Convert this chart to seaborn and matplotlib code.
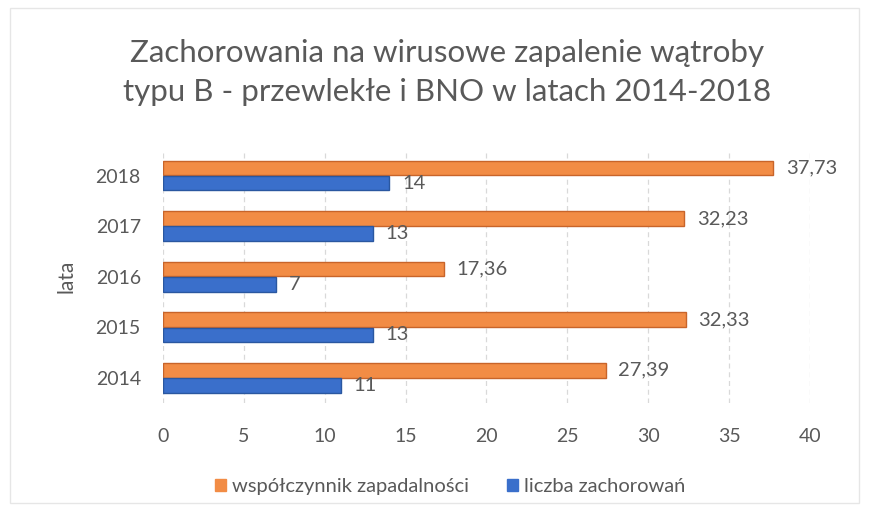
import matplotlib
matplotlib.use('Agg')
import pandas as pd
import matplotlib.pyplot as plt
import seaborn as sns
from matplotlib.patches import Rectangle

# data
years = ['2018', '2017', '2016', '2015', '2014']
incidence_rate = [37.73, 32.23, 17.36, 32.33, 27.39]
case_count = [14, 13, 7, 13, 11]
series_names = ['współczynnik zapadalności', 'liczba zachorowań']
colors = ['#F28C45', '#3A6FCB']
edges = ['#C8642A', '#2A57A0']

df = pd.DataFrame({
    'lata': years * 2,
    'wartosc': incidence_rate + case_count,
    'seria': [series_names[0]] * len(years) + [series_names[1]] * len(years),
})

sns.set_style('white')
plt.rcParams['font.family'] = ['Lato', 'DejaVu Sans']

fig = plt.figure(figsize=(8.69, 5.11), dpi=100)
ax = fig.add_axes([0.1876, 0.211, 0.7444, 0.495])

sns.barplot(data=df, x='wartosc', y='lata', hue='seria', order=years,
            hue_order=series_names, palette=colors, saturation=1, orient='h',
            width=0.6, gap=0.05, ax=ax, legend=False)

# darker edges for a bit of the excel 3d look
for cont, ec in zip(ax.containers, edges):
    for bar in cont:
        bar.set_edgecolor(ec)
        bar.set_linewidth(1.0)

# data labels with decimal comma
for cont, vals in zip(ax.containers, [incidence_rate, case_count]):
    labels = [f'{v:.2f}'.replace('.', ',') if isinstance(v, float) else str(v) for v in vals]
    ax.bar_label(cont, labels=labels, padding=9, fontsize=14.5, color='#595959')

ax.set_xlim(0, 40)
ax.set_xticks(range(0, 41, 5))
ax.xaxis.grid(True, color='#D9D9D9', linestyle=(0, (4, 3)), linewidth=0.9)
ax.set_axisbelow(True)
for s in ax.spines.values():
    s.set_visible(False)
ax.tick_params(axis='both', length=0, labelsize=14, labelcolor='#595959')
ax.tick_params(axis='x', pad=18)
ax.tick_params(axis='y', pad=16)
ax.set_xlabel('')
ax.set_ylabel('lata', fontsize=15, color='#595959', labelpad=14)

fig.text(0.515, 0.858, 'Zachorowania na wirusowe zapalenie wątroby\ntypu B - przewlekłe i BNO w latach 2014-2018',
         ha='center', va='center', fontsize=22.5, color='#595959', linespacing=1.45)

# legend
handles = [Rectangle((0, 0), 1, 1, facecolor=c, edgecolor=c) for c in colors]
fig.legend(handles, series_names, loc='center', bbox_to_anchor=(0.518, 0.047), ncol=2,
           frameon=False, fontsize=14.5, handlelength=0.55, handleheight=0.55,
           handletextpad=0.3, columnspacing=1.9, labelcolor='#595959')

# faint chart border like the scanned excel frame
fig.patches.append(Rectangle((0.012, 0.015), 0.976, 0.97, transform=fig.transFigure,
                             fill=False, edgecolor='#E6E6E6', linewidth=1.0))

plt.savefig('out.png', dpi=100)
plt.close()
